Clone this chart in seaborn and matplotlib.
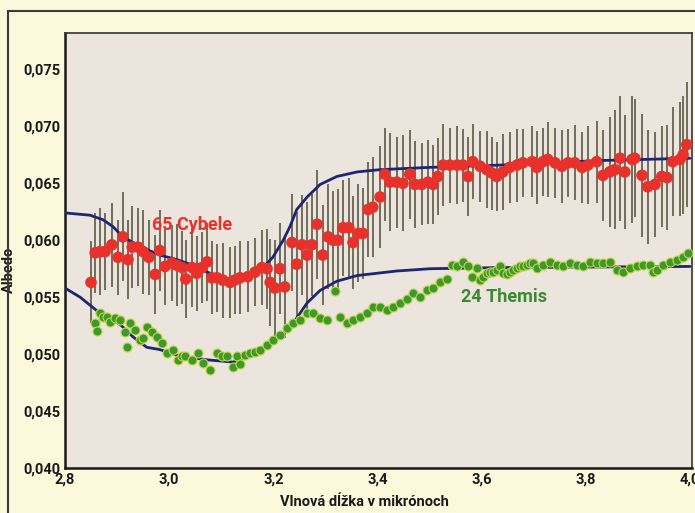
import numpy as np
import pandas as pd
import matplotlib
matplotlib.use("Agg")
import matplotlib.pyplot as plt
import seaborn as sns
from matplotlib.patches import Rectangle

# --- dáta odčítané z grafu ---

# 65 Cybele (červené body + chybové úsečky)
cyb_x = [2.850, 2.858, 2.867, 2.877, 2.890, 2.902, 2.911, 2.921, 2.929, 2.940,
         2.950, 2.961, 2.973, 2.982, 2.992, 3.005, 3.015, 3.025, 3.032, 3.044,
         3.053, 3.063, 3.073, 3.082, 3.092, 3.103, 3.117, 3.126, 3.136, 3.151,
         3.165, 3.178, 3.188, 3.194, 3.203, 3.213, 3.222, 3.236, 3.245, 3.255,
         3.265, 3.274, 3.284, 3.295, 3.305, 3.315, 3.324, 3.334, 3.345, 3.353,
         3.363, 3.372, 3.382, 3.391, 3.405, 3.414, 3.424, 3.437, 3.449, 3.462,
         3.472, 3.485, 3.497, 3.507, 3.516, 3.526, 3.539, 3.553, 3.564, 3.574,
         3.583, 3.597, 3.610, 3.620, 3.629, 3.641, 3.654, 3.668, 3.679, 3.697,
         3.706, 3.718, 3.727, 3.741, 3.754, 3.766, 3.779, 3.793, 3.804, 3.821,
         3.833, 3.846, 3.856, 3.866, 3.875, 3.889, 3.894, 3.908, 3.919, 3.933,
         3.946, 3.956, 3.967, 3.981, 3.987, 3.994]
cyb_y = [0.0563, 0.0589, 0.0590, 0.0590, 0.0596, 0.0585, 0.0603, 0.0583, 0.0594, 0.0594,
         0.0590, 0.0585, 0.0570, 0.0591, 0.0577, 0.0580, 0.0578, 0.0576, 0.0566, 0.0576,
         0.0571, 0.0576, 0.0581, 0.0567, 0.0567, 0.0565, 0.0563, 0.0565, 0.0567, 0.0568,
         0.0572, 0.0576, 0.0575, 0.0563, 0.0558, 0.0575, 0.0559, 0.0598, 0.0579, 0.0596,
         0.0587, 0.0596, 0.0614, 0.0587, 0.0603, 0.0600, 0.0600, 0.0611, 0.0611, 0.0598,
         0.0606, 0.0606, 0.0627, 0.0629, 0.0638, 0.0658, 0.0651, 0.0651, 0.0650, 0.0658,
         0.0649, 0.0649, 0.0651, 0.0649, 0.0656, 0.0666, 0.0666, 0.0666, 0.0666, 0.0656,
         0.0669, 0.0665, 0.0662, 0.0659, 0.0656, 0.0660, 0.0664, 0.0666, 0.0668, 0.0669,
         0.0664, 0.0669, 0.0671, 0.0668, 0.0665, 0.0668, 0.0668, 0.0664, 0.0666, 0.0669,
         0.0657, 0.0660, 0.0662, 0.0672, 0.0660, 0.0671, 0.0672, 0.0657, 0.0647, 0.0649,
         0.0656, 0.0655, 0.0669, 0.0671, 0.0675, 0.0684]
cyb_err = [0.0036, 0.0035, 0.0038, 0.0034, 0.0037, 0.0033, 0.0039, 0.0035, 0.0036, 0.0034,
           0.0037, 0.0033, 0.0035, 0.0036, 0.0034, 0.0033, 0.0036, 0.0032, 0.0034, 0.0035,
           0.0033, 0.0031, 0.0034, 0.0032, 0.0030, 0.0033, 0.0031, 0.0030, 0.0032, 0.0031,
           0.0030, 0.0033, 0.0035, 0.0038, 0.0042, 0.0040, 0.0045, 0.0043, 0.0046, 0.0044,
           0.0047, 0.0045, 0.0048, 0.0044, 0.0046, 0.0043, 0.0045, 0.0042, 0.0044, 0.0041,
           0.0043, 0.0040, 0.0042, 0.0044, 0.0045, 0.0041, 0.0043, 0.0040, 0.0042, 0.0039,
           0.0038, 0.0036, 0.0037, 0.0035, 0.0034, 0.0036, 0.0033, 0.0034, 0.0032, 0.0035,
           0.0033, 0.0031, 0.0034, 0.0032, 0.0030, 0.0033, 0.0031, 0.0032, 0.0030, 0.0031,
           0.0032, 0.0030, 0.0033, 0.0031, 0.0032, 0.0030, 0.0033, 0.0031, 0.0034, 0.0036,
           0.0040, 0.0048, 0.0052, 0.0055, 0.0050, 0.0056, 0.0052, 0.0054, 0.0050, 0.0046,
           0.0044, 0.0046, 0.0048, 0.0050, 0.0052, 0.0055]

# 24 Themis (zelené body)
them_x = [2.858, 2.861, 2.867, 2.873, 2.881, 2.886, 2.896, 2.906, 2.915, 2.919,
          2.925, 2.934, 2.944, 2.950, 2.957, 2.967, 2.977, 2.986, 2.996, 3.007,
          3.017, 3.025, 3.030, 3.044, 3.055, 3.065, 3.078, 3.092, 3.101, 3.111,
          3.123, 3.130, 3.136, 3.146, 3.155, 3.165, 3.174, 3.188, 3.199, 3.213,
          3.226, 3.238, 3.251, 3.265, 3.276, 3.290, 3.303, 3.318, 3.328, 3.341,
          3.353, 3.366, 3.380, 3.391, 3.405, 3.418, 3.430, 3.443, 3.457, 3.468,
          3.482, 3.495, 3.507, 3.520, 3.533, 3.543, 3.553, 3.564, 3.574, 3.581,
          3.591, 3.597, 3.603, 3.610, 3.616, 3.622, 3.629, 3.635, 3.641, 3.649,
          3.654, 3.660, 3.668, 3.674, 3.679, 3.687, 3.693, 3.699, 3.706, 3.718,
          3.731, 3.745, 3.756, 3.770, 3.783, 3.795, 3.808, 3.821, 3.833, 3.846,
          3.860, 3.871, 3.885, 3.898, 3.910, 3.923, 3.929, 3.937, 3.948, 3.962,
          3.975, 3.987, 3.996]
them_y = [0.0527, 0.0520, 0.0536, 0.0533, 0.0533, 0.0528, 0.0532, 0.0530, 0.0519, 0.0506,
          0.0527, 0.0521, 0.0512, 0.0514, 0.0524, 0.0519, 0.0515, 0.0510, 0.0501, 0.0504,
          0.0495, 0.0498, 0.0498, 0.0495, 0.0501, 0.0492, 0.0486, 0.0501, 0.0498, 0.0498,
          0.0489, 0.0498, 0.0491, 0.0499, 0.0501, 0.0502, 0.0504, 0.0508, 0.0512, 0.0517,
          0.0523, 0.0527, 0.0530, 0.0536, 0.0536, 0.0532, 0.0530, 0.0555, 0.0533, 0.0527,
          0.0530, 0.0533, 0.0536, 0.0541, 0.0541, 0.0539, 0.0541, 0.0545, 0.0548, 0.0554,
          0.0550, 0.0556, 0.0558, 0.0563, 0.0566, 0.0578, 0.0577, 0.0581, 0.0577, 0.0568,
          0.0576, 0.0565, 0.0568, 0.0571, 0.0572, 0.0572, 0.0574, 0.0577, 0.0571, 0.0570,
          0.0572, 0.0574, 0.0576, 0.0577, 0.0577, 0.0578, 0.0580, 0.0580, 0.0576, 0.0578,
          0.0581, 0.0578, 0.0577, 0.0580, 0.0578, 0.0577, 0.0581, 0.0580, 0.0580, 0.0581,
          0.0574, 0.0572, 0.0576, 0.0577, 0.0578, 0.0578, 0.0572, 0.0574, 0.0578, 0.0581,
          0.0583, 0.0585, 0.0589]

# modelové krivky (modré)
model_cyb_x = [2.800, 2.848, 2.873, 2.892, 2.911, 2.931, 2.957, 2.982, 3.015, 3.046,
               3.073, 3.098, 3.123, 3.146, 3.165, 3.180, 3.199, 3.219, 3.232, 3.245,
               3.265, 3.290, 3.322, 3.361, 3.405, 3.501, 3.635, 3.827, 4.000]
model_cyb_y = [0.0624, 0.0622, 0.0618, 0.0612, 0.0603, 0.0598, 0.0592, 0.0587, 0.0583, 0.0578,
               0.0572, 0.0568, 0.0565, 0.0566, 0.0570, 0.0576, 0.0585, 0.0600, 0.0612, 0.0627,
               0.0638, 0.0649, 0.0656, 0.0660, 0.0662, 0.0664, 0.0666, 0.0670, 0.0672]
model_them_x = [2.800, 2.829, 2.867, 2.906, 2.931, 2.957, 2.982, 3.021, 3.073, 3.123,
                3.149, 3.180, 3.213, 3.238, 3.265, 3.290, 3.322, 3.361, 3.437, 3.501,
                3.635, 4.000]
model_them_y = [0.0558, 0.0550, 0.0536, 0.0526, 0.0515, 0.0506, 0.0504, 0.0498, 0.0495, 0.0493,
                0.0498, 0.0504, 0.0515, 0.0527, 0.0545, 0.0556, 0.0564, 0.0569, 0.0573, 0.0575,
                0.0576, 0.0577]

y_ticks = [0.040, 0.045, 0.050, 0.055, 0.060, 0.065, 0.070, 0.075]
x_ticks = [2.8, 3.0, 3.2, 3.4, 3.6, 3.8, 4.0]

df_cyb = pd.DataFrame({'x': cyb_x, 'y': cyb_y, 'err': cyb_err})
df_them = pd.DataFrame({'x': them_x, 'y': them_y})
df_mc = pd.DataFrame({'x': model_cyb_x, 'y': model_cyb_y})
df_mt = pd.DataFrame({'x': model_them_x, 'y': model_them_y})

sns.set_theme(style="white")
plt.rcParams['font.family'] = ['Roboto', 'DejaVu Sans']
plt.rcParams['font.weight'] = 'bold'

fig = plt.figure(figsize=(6.95, 5.13), dpi=100, facecolor='#fbf8dc')
ax = fig.add_axes([65 / 695, 1 - 468 / 513, 627 / 695, 435 / 513])
ax.set_facecolor('#ebe5de')

# chybové úsečky
ax.vlines(df_cyb['x'], df_cyb['y'] - df_cyb['err'], df_cyb['y'] + df_cyb['err'],
          colors='#5e5844', linewidth=1.2, zorder=2)

sns.lineplot(data=df_mc, x='x', y='y', ax=ax, color='#1e2672', linewidth=2,
             sort=False, estimator=None, zorder=3)
sns.lineplot(data=df_mt, x='x', y='y', ax=ax, color='#1e2672', linewidth=2,
             sort=False, estimator=None, zorder=3)

sns.scatterplot(data=df_them, x='x', y='y', ax=ax, color='#3b9a2c', s=42,
                edgecolor='#c8d24a', linewidth=0.8, zorder=4)
sns.scatterplot(data=df_cyb, x='x', y='y', ax=ax, color='#e8312a', s=70,
                edgecolor='none', zorder=5)

ax.text(3.044, 0.0613, '65 Cybele', color='#e8312a', fontsize=13, fontweight='bold',
        ha='center', va='center', zorder=6)
ax.text(3.643, 0.0550, '24 Themis', color='#3a8a30', fontsize=13, fontweight='bold',
        ha='center', va='center', zorder=6)

ax.set_xlim(2.8, 4.004)
ax.set_ylim(0.040, 0.0782)
ax.set_xticks(x_ticks)
ax.set_yticks(y_ticks)
ax.set_xticklabels([f'{v:.1f}'.replace('.', ',') for v in x_ticks])
ax.set_yticklabels([f'{v:.3f}'.replace('.', ',') for v in y_ticks])
ax.tick_params(axis='both', direction='in', length=7, width=1.5, color='#222222',
               labelsize=10.5, labelcolor='#1a1a1a', pad=3)
for lab in ax.get_xticklabels() + ax.get_yticklabels():
    lab.set_fontweight('bold')

ax.set_xlabel('Vlnová dĺžka v mikrónoch', fontsize=10.5, fontweight='bold', color='#1a1a1a')
ax.set_ylabel('Albedo', fontsize=10.5, fontweight='bold', color='#1a1a1a')
ax.xaxis.set_label_coords(0.477, -0.062)
ax.yaxis.set_label_coords(-0.078, 0.455)

for side in ['left', 'bottom']:
    ax.spines[side].set_linewidth(1.8)
    ax.spines[side].set_color('#1a1a1a')
for side in ['top', 'right']:
    ax.spines[side].set_linewidth(1.2)
    ax.spines[side].set_color('#333333')

# vonkajší rámik
fig.patches.append(Rectangle((8 / 695, -0.05), 1.1, 1 - 11 / 513 + 0.05,
                             transform=fig.transFigure, fill=False,
                             edgecolor='#3a3a3a', linewidth=1.5))

fig.savefig('out.png', dpi=100, facecolor=fig.get_facecolor())
